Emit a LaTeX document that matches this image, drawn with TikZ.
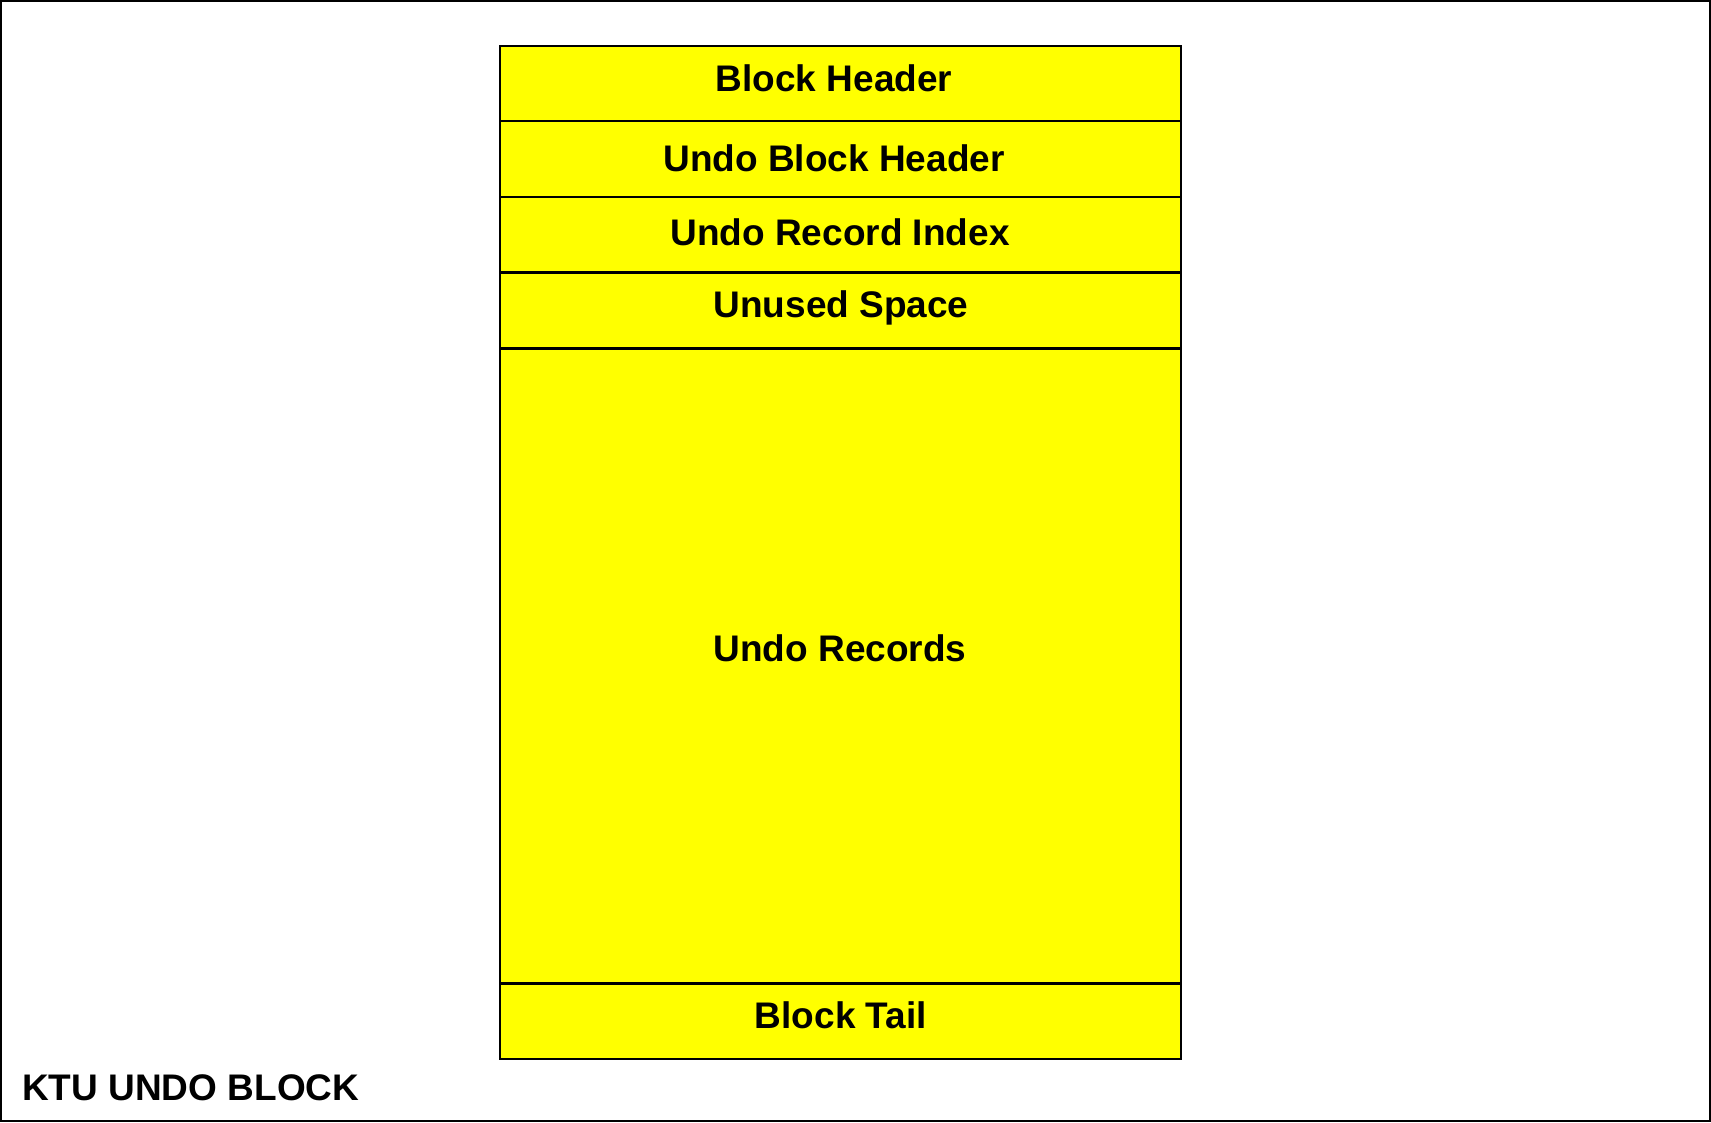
\documentclass[tikz,border=0pt]{standalone}
\usepackage{fontspec}
\setmainfont{Liberation Sans}
\definecolor{cellyellow}{RGB}{255,255,0}
\begin{document}
\begin{tikzpicture}[x=1pt,y=-1pt,
  cell/.style={draw=black,fill=cellyellow,line width=2.8pt},
  lbl/.style={font=\fontsize{37}{44}\selectfont\bfseries,inner sep=0pt,anchor=base}]
\useasboundingbox (0,0) rectangle (1711,1122);
\draw[line width=2pt] (1,1) rectangle (1710,1121);
% block layout, top to bottom
\draw[cell] (500,46) rectangle (1181,121);
\draw[cell] (500,121) rectangle (1181,197);
\draw[cell] (500,197) rectangle (1181,272.5);
\draw[cell] (500,272.5) rectangle (1181,348.5);
\draw[cell] (500,348.5) rectangle (1181,983.5);
\draw[cell] (500,983.5) rectangle (1181,1059);
% labels
\node[lbl] (bh) at (834,91) {Block Header};
\node[lbl] (ubh) at (834,171.7) {Undo Block Header};
\node[lbl] (uri) at (840,245.3) {Undo Record Index};
\node[lbl] (us) at (841,317) {Unused Space};
\node[lbl] (ur) at (840,661) {Undo Records};
\node[lbl] (bt) at (841,1028.3) {Block Tail};
\node[lbl,anchor=base west] (title) at (22,1100) {KTU UNDO BLOCK};
\end{tikzpicture}
\end{document}
